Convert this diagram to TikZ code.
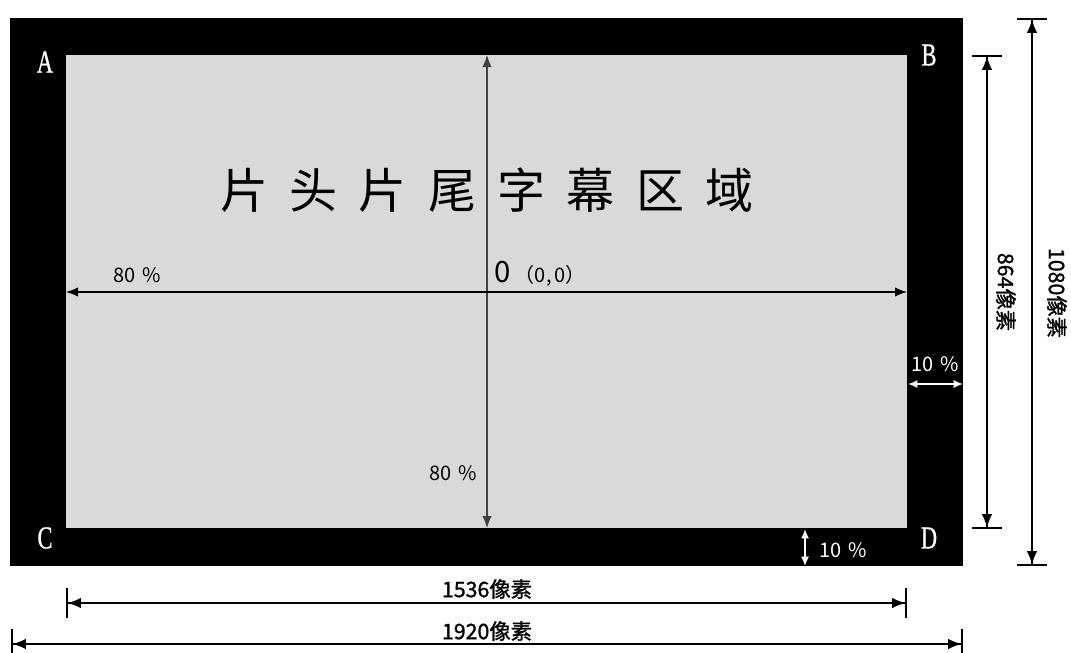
\documentclass[tikz,border=0pt]{standalone}
\usepackage{fontspec}
\setmainfont{Liberation Serif}
\newfontfamily\cjk{Noto Sans CJK SC}
\newfontfamily\cjkmid[FakeBold=1.2]{Noto Sans CJK SC}
\newfontfamily\narrowserif[FakeStretch=0.7,FakeBold=0.8]{Liberation Serif}
\usetikzlibrary{arrows.meta}
\definecolor{screengray}{HTML}{D9D9D9}
\tikzset{
  corner/.style={text=white, font=\narrowserif\fontsize{24}{24}\selectfont},
  pct/.style={font=\cjk\fontsize{15}{15}\selectfont},
  sizelabel/.style={font=\cjkmid\fontsize{16}{16}\selectfont},
  axis/.style={line width=0.9pt, {Latex[length=9pt,width=7pt]}-{Latex[length=9pt,width=7pt]}},
  dim/.style={line width=1.2pt, {Bar[width=22pt]Latex[length=10pt,width=8pt]}-{Latex[length=10pt,width=8pt]Bar[width=22pt]}},
  margin/.style={white, line width=1.2pt, {Latex[length=7pt,width=6pt]}-{Latex[length=7pt,width=6pt]}}
}
\begin{document}
\begin{tikzpicture}[x=0.75pt,y=-0.75pt]
  \useasboundingbox (0,0) rectangle (1071,653);
  % frame
  \coordinate (outer nw) at (10,18);
  \coordinate (outer se) at (963,566);
  \coordinate (inner nw) at (66,55);
  \coordinate (inner se) at (907,528);
  \fill[black] (outer nw) rectangle (outer se);
  \fill[screengray] (inner nw) rectangle (inner se);
  \node[corner] (A) at (45,62) {A};
  \node[corner] (B) at (929,55) {B};
  \node[corner] (C) at (45,538) {C};
  \node[corner] (D) at (929,538) {D};
  % axes
  \coordinate (top) at (487,55);
  \coordinate (bottom) at (487,528);
  \coordinate (left) at (66,292);
  \coordinate (right) at (907,292);
  \draw[axis, black!75] (top) -- (bottom);
  \draw[axis] (left) -- (right);
  \node[font=\cjk\fontsize{36}{36}\selectfont] (title) at (487,190)
    {片\hspace{16pt}头\hspace{16pt}片\hspace{16pt}尾\hspace{16pt}字\hspace{16pt}幕\hspace{16pt}区\hspace{16pt}域};
  \node[pct] (wide) at (137,275) {80\hspace{5pt}\%};
  \node[pct] (high) at (453,473) {80\hspace{5pt}\%};
  \node[font=\cjk, anchor=west] (origin) at (490,274)
    {{\fontsize{22}{22}\selectfont 0}\hspace{3pt}{\fontsize{15}{15}\selectfont （0,\hspace{2pt}0）}};
  % margins
  \coordinate (mr1) at (908,384);
  \coordinate (mr2) at (963,384);
  \coordinate (mb1) at (805,529);
  \coordinate (mb2) at (805,566);
  \draw[margin] (mr1) -- (mr2);
  \draw[margin] (mb1) -- (mb2);
  \node[pct, text=white] (side) at (935,364) {10\hspace{5pt}\%};
  \node[pct, text=white] (foot) at (843,550) {10\hspace{5pt}\%};
  % dimensions
  \coordinate (w1) at (66,603);
  \coordinate (w2) at (907,603);
  \coordinate (W1) at (11,644);
  \coordinate (W2) at (963,644);
  \coordinate (h1) at (987,55);
  \coordinate (h2) at (987,529);
  \coordinate (H1) at (1032,18);
  \coordinate (H2) at (1032,566);
  \draw[dim] (w1) -- (w2);
  \draw[dim] (W1) -- (W2);
  \draw[dim] (h1) -- (h2);
  \draw[dim] (H1) -- (H2);
  \node[sizelabel] (inner width) at (487,589) {1536像素};
  \node[sizelabel] (outer width) at (487,631) {1920像素};
  \node[sizelabel, rotate=-90] (inner height) at (1006,292) {864像素};
  \node[sizelabel, rotate=-90] (outer height) at (1057,293) {1080像素};
\end{tikzpicture}
\end{document}
